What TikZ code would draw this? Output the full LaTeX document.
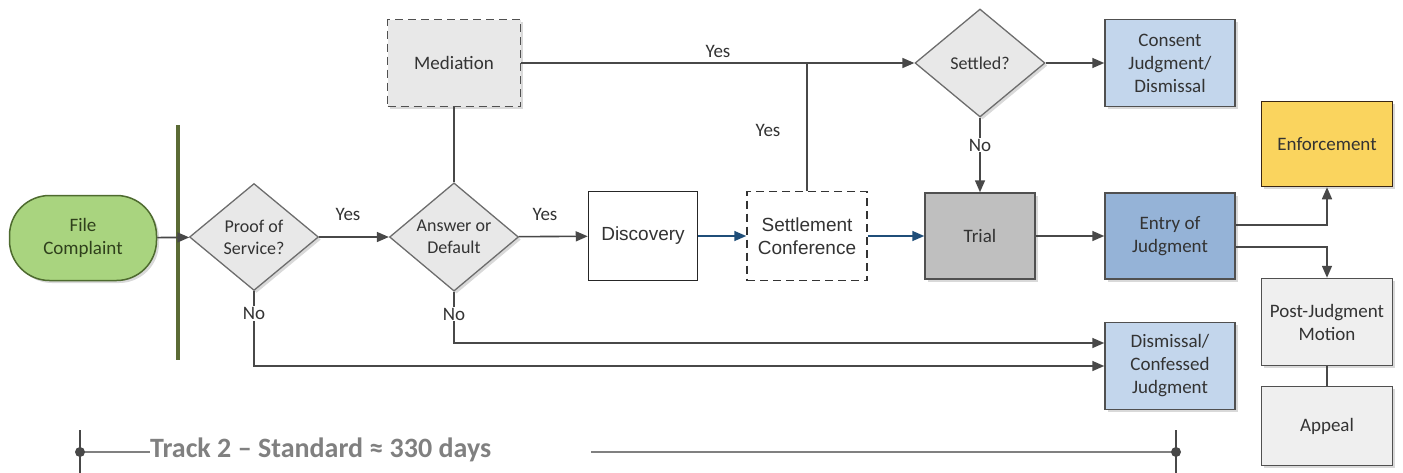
\documentclass[tikz,border=0pt]{standalone}
\usepackage{fontspec}
\setmainfont{Carlito}
\newfontfamily\arialfont{Liberation Sans}
\usetikzlibrary{shapes.geometric,arrows.meta,shadows}

\definecolor{lineclr}{HTML}{484848}
\definecolor{boxline}{HTML}{505050}
\definecolor{txtclr}{HTML}{333333}
\definecolor{greenfill}{HTML}{A9D47F}
\definecolor{greenline}{HTML}{4E6B2F}
\definecolor{barclr}{HTML}{5B6B35}
\definecolor{greyfill}{HTML}{E8E8E8}
\definecolor{lightfill}{HTML}{EFEFEF}
\definecolor{trialfill}{HTML}{BFBFBF}
\definecolor{paleblue}{HTML}{C3D6EC}
\definecolor{midblue}{HTML}{95B3D7}
\definecolor{gold}{HTML}{FAD45E}
\definecolor{arrblue}{HTML}{1F4E79}
\definecolor{trackclr}{HTML}{808080}

\newcommand{\nfont}{\fontsize{19}{23}\selectfont}
\newcommand{\dfont}{\fontsize{18}{22}\selectfont}

\begin{document}
\begin{tikzpicture}[x=1pt, y=-1pt,
	box/.style={draw=boxline, line width=1.5pt, align=center, text=txtclr, font=\nfont,
		minimum width=130pt, minimum height=87pt, inner sep=2pt},
	shade/.style={drop shadow={opacity=0.3, shadow xshift=2.5pt, shadow yshift=-2.5pt}},
	decision/.style={diamond, draw=lineclr!80, line width=1.3pt, fill=greyfill, align=center,
		text=txtclr, font=\dfont, minimum width=129pt, minimum height=107pt, inner sep=0pt, shade},
	dashbox/.style={box, dash pattern=on 8pt off 5pt},
	arr/.style={draw=lineclr, line width=1.6pt, -{Triangle[length=12pt, width=10pt]}},
	link/.style={draw=lineclr, line width=1.6pt},
	bluearr/.style={draw=arrblue, line width=1.6pt, -{Triangle[length=12pt, width=10pt]}},
	lbl/.style={font=\nfont, text=txtclr, inner sep=1pt}]
	\useasboundingbox (0,0) rectangle (1403,472);

	% start and bar
	\node[box, fill=greenfill, draw=greenline, text=greenline!60!black, rounded corners=40pt,
		minimum width=147pt, minimum height=85pt, shade] (fc) at (83,238) {File\\Complaint};
	\coordinate (bartop) at (178,125);
	\coordinate (barbot) at (178,360);
	\draw[barclr, line width=3.5pt] (bartop) -- (barbot);

	% decisions
	\node[decision] (proof) at (254,237) {Proof of\\Service?};
	\node[decision] (answer) at (454,237) {Answer or\\Default};
	\node[decision, minimum width=130pt, minimum height=108pt] (settled) at (980,63) {Settled?};

	% process boxes
	\node[dashbox, fill=greyfill, minimum width=133pt, shade] (med) at (454,63) {Mediation};
	\node[box, draw=black!85, fill=white, minimum width=109pt, minimum height=89pt,
		font=\arialfont\nfont] (disc) at (643,236) {Discovery};
	\node[dashbox, draw=black!80, fill=white, minimum width=120pt, minimum height=89pt,
		font=\arialfont\nfont] (settle) at (807,236) {Settlement\\Conference};
	\node[box, fill=trialfill, minimum width=110pt, minimum height=86pt, shade] (trial) at (980,236) {Trial};

	% outcomes
	\node[box, fill=paleblue, shade] (consent) at (1170,63) {Consent\\Judgment/\\Dismissal};
	\node[box, fill=midblue, minimum height=86pt, shade] (entry) at (1170,236) {Entry of\\Judgment};
	\node[box, fill=paleblue, shade] (dis) at (1170,366) {Dismissal/\\Confessed\\Judgment};
	\node[box, fill=gold, draw=black!70!brown, minimum width=131pt, minimum height=85pt, shade] (enf) at (1327,144) {Enforcement};
	\node[box, fill=lightfill, minimum width=131pt, shade] (post) at (1327,322) {Post-Judgment\\Motion};
	\node[box, fill=lightfill, minimum width=131pt, minimum height=79pt, shade] (appeal) at (1327,426) {Appeal};

	% connectors
	\draw[arr] (fc) -- (proof);
	\draw[arr] (proof) -- (answer);
	\node[lbl] (yes1) at (348,214) {Yes};
	\draw[arr] (answer) -- (disc);
	\node[lbl] (yes2) at (545,214) {Yes};
	\draw[link] (answer) -- (med);
	\draw[arr] (med) -- (settled);
	\node[lbl] (yes3) at (718,51) {Yes};
	\draw[link] (settle) -- (settle |- med.east);
	\node[lbl] (yes4) at (768,130) {Yes};
	\draw[bluearr] (disc) -- (settle);
	\draw[bluearr] (settle) -- (trial);
	\draw[arr] (settled) -- (consent);
	\draw[arr] (settled) -- node[lbl, fill=white, pos=0.37] (no1) {No} (trial);
	\draw[arr] (trial) -- (entry);
	\draw[arr] ([yshift=11pt]entry.east) -| (enf.south);
	\draw[arr] ([yshift=-11pt]entry.east) -| (post.north);
	\draw[link] (post) -- (appeal);
	\draw[arr] (answer.south) |- node[lbl, fill=white, pos=0.22] (no2) {No} ([yshift=23pt]dis.west);
	\draw[arr] (proof.south) |- node[lbl, fill=white, pos=0.15] (no3) {No} (dis.west);

	% track
	\coordinate (tl) at (80,452);
	\coordinate (tr) at (1176,452);
	\coordinate (tm) at (591,452);
	\node[font=\fontsize{28}{30}\selectfont\bfseries, text=trackclr, inner sep=0pt, anchor=west]
		(track) at (150,450) {Track 2 -- Standard ≈ 330 days};
	\draw[trackclr, line width=1.6pt] (tl) -- (track.west |- tl);
	\draw[trackclr, line width=1.6pt] (tm) -- (tr);
	\foreach \c in {tl,tr} {
		\draw[lineclr, line width=1.6pt] (\c) ++(0,-22) -- ++(0,44);
		\fill[lineclr] (\c) circle (5pt);
	}
\end{tikzpicture}
\end{document}
